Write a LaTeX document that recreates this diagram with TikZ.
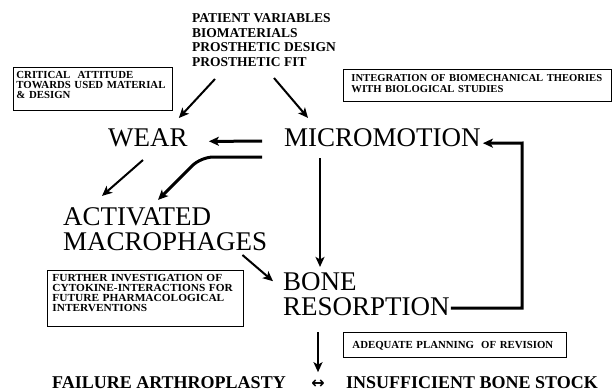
\documentclass[tikz,border=0pt]{standalone}
\usepackage{fontspec}
\setmainfont{Liberation Serif}
\newfontfamily\boxfont{Liberation Serif}
\newfontfamily\widefont[FakeStretch=1.05]{Liberation Serif}
\newfontfamily\symfont{DejaVu Sans}
\usetikzlibrary{arrows.meta}
\tikzset{
  big/.style={inner sep=0pt, anchor=base west, font=\fontsize{27}{27}\selectfont},
  toptxt/.style={inner sep=0pt, anchor=base west, font=\bfseries\fontsize{13.5}{14}\selectfont},
  bottxt/.style={inner sep=0pt, anchor=base west, font=\bfseries\fontsize{18}{18}\selectfont},
  notebox/.style={draw, line width=0.9pt, anchor=north west, align=left, inner ysep=0pt},
  arr/.style={-{Stealth[length=10pt,width=9pt,inset=2.5pt]}, line width=2pt},
  thickarr/.style={arr, line width=3pt},
}
\begin{document}
\begin{tikzpicture}[x=1pt,y=-1pt]
\useasboundingbox (0,0) rectangle (612,391);

% top list
\node[toptxt] (pv)  at (192,22.5) {PATIENT VARIABLES};
\node[toptxt] (bm)  at (192,37)   {BIOMATERIALS};
\node[toptxt] (pd)  at (192,51.5) {PROSTHETIC DESIGN};
\node[toptxt] (fit) at (192,66)   {PROSTHETIC FIT};

% main labels
\node[big] (wear)  at (108,146) {WEAR};
\node[big] (micro) at (284,146) {MICROMOTION};
\node[big] (act)   at (63,225)  {ACTIVATED};
\node[big] (mac)   at (63,250)  {MACROPHAGES};
\node[big] (bone)  at (283,290) {BONE};
\node[big] (reso)  at (283,315) {RESORPTION};

% bottom
\node[bottxt] (fail) at (52,388)  {FAILURE ARTHROPLASTY};
\node[inner sep=0pt, anchor=base, font=\symfont\bfseries\fontsize{16}{16}\selectfont] (dbl) at (318,388) {↔};
\node[bottxt] (insuf) at (346,388) {INSUFFICIENT BONE STOCK};

% note boxes
\node[notebox, text width=153pt, inner xsep=3pt, text height=11pt, text depth=32pt,
      font=\boxfont\bfseries\fontsize{10.8}{9.8}\selectfont] (crit) at (13,67)
  {CRITICAL\ \ ATTITUDE\\TOWARDS USED MATERIAL\\\& DESIGN};
\node[notebox, text width=252pt, inner xsep=8pt, text height=12pt, text depth=20pt,
      font=\boxfont\bfseries\fontsize{10.6}{11}\selectfont] (integ) at (343,69)
  {INTEGRATION OF BIOMECHANICAL THEORIES\\WITH BIOLOGICAL STUDIES};
\node[notebox, text width=186pt, inner xsep=5pt, text height=11.5pt, text depth=45pt,
      font=\widefont\bfseries\fontsize{10.8}{10}\selectfont] (further) at (47,269.5)
  {FURTHER INVESTIGATION OF\\CYTOKINE-INTERACTIONS FOR\\FUTURE PHARMACOLOGICAL\\INTERVENTIONS};
\node[notebox, text width=205pt, inner xsep=9pt, text height=16pt, text depth=9pt,
      font=\boxfont\bfseries\fontsize{10.8}{10}\selectfont] (adeq) at (343,332)
  {ADEQUATE PLANNING\ \ OF REVISION};

% connectors
\coordinate (bend) at (201,157);
\coordinate (fb) at (522,143);

\draw[arr] ([xshift=23pt,yshift=-13pt]fit.base west) -- ([xshift=-9pt,yshift=10pt]wear.north east);
\draw[arr] ([xshift=82pt,yshift=-12pt]fit.base west) -- ([xshift=24pt,yshift=10pt]micro.north west);
\draw[thickarr] ([xshift=-22pt,yshift=-4pt]micro.west) -- ([xshift=21pt,yshift=-4pt]wear.east);
\draw[thickarr, rounded corners=12pt] ([xshift=-22pt,yshift=-20pt]micro.west) -- (bend) -- ([xshift=95pt,yshift=7pt]act.north west);
\draw[arr] ([xshift=35pt,yshift=-14pt]wear.base west) -- ([xshift=39pt,yshift=11pt]act.north west);
\draw[arr] ([xshift=-25pt,yshift=-5pt]mac.base east) -- ([xshift=-10pt]bone.west);
\draw[arr] ([xshift=36pt,yshift=-12pt]micro.base west) -- ([xshift=37pt,yshift=5pt]bone.north west);
\draw[thickarr] ([xshift=1pt,yshift=-2pt]reso.east) -| (fb) -- ([xshift=2pt,yshift=-6pt]micro.east);
\draw[arr] ([xshift=35pt,yshift=-17pt]reso.base west) -- ([yshift=7pt]dbl.north);
\end{tikzpicture}
\end{document}
